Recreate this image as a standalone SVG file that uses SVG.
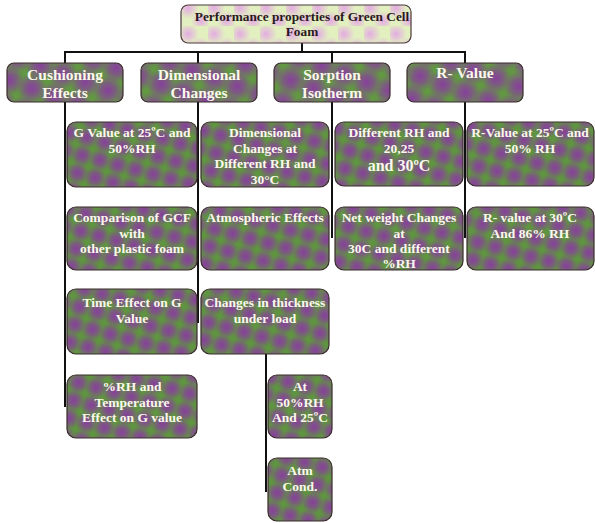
<svg xmlns="http://www.w3.org/2000/svg" width="595" height="523" viewBox="0 0 595 523">
<defs>
<radialGradient id="pb"><stop offset="0" stop-color="#8a3aa2" stop-opacity="0.95"/><stop offset="0.5" stop-color="#8a3aa2" stop-opacity="0.6"/><stop offset="1" stop-color="#8a3aa2" stop-opacity="0"/></radialGradient>
<radialGradient id="lb"><stop offset="0" stop-color="#e4a4e6" stop-opacity="0.9"/><stop offset="1" stop-color="#e4a4e6" stop-opacity="0"/></radialGradient>
<pattern id="tex" width="26" height="26" patternUnits="userSpaceOnUse" patternTransform="rotate(-30)">
<rect width="26" height="26" fill="#5f9440"/>
<circle cx="6.5" cy="6.5" r="11" fill="url(#pb)"/>
<circle cx="19.5" cy="19.5" r="11" fill="url(#pb)"/>
<circle cx="32.5" cy="6.5" r="11" fill="url(#pb)"/>
<circle cx="-6.5" cy="19.5" r="11" fill="url(#pb)"/>
<circle cx="6.5" cy="32.5" r="11" fill="url(#pb)"/>
<circle cx="19.5" cy="-6.5" r="11" fill="url(#pb)"/>
</pattern>
<pattern id="texL" width="34" height="34" patternUnits="userSpaceOnUse" patternTransform="rotate(-25)">
<rect width="34" height="34" fill="#629842"/>
<circle cx="8.5" cy="8.5" r="15" fill="url(#pb)"/>
<circle cx="25.5" cy="25.5" r="15" fill="url(#pb)"/>
<circle cx="42.5" cy="8.5" r="15" fill="url(#pb)"/>
<circle cx="-8.5" cy="25.5" r="15" fill="url(#pb)"/>
<circle cx="8.5" cy="42.5" r="15" fill="url(#pb)"/>
<circle cx="25.5" cy="-8.5" r="15" fill="url(#pb)"/>
</pattern>
<pattern id="texT" width="26" height="26" patternUnits="userSpaceOnUse">
<rect width="26" height="26" fill="#e2f0c0"/>
<circle cx="6" cy="8" r="11" fill="url(#lb)"/>
<circle cx="19" cy="21" r="10" fill="url(#lb)"/>
</pattern>
<style>
.box{fill:url(#tex);stroke:#3a2c2c;stroke-width:1.2}
.l1{fill:url(#texL);stroke:#3a2c2c;stroke-width:1.2}
.top{fill:url(#texT);stroke:#4a3a3a;stroke-width:1.2}
text{font-family:"Liberation Serif","Times New Roman",serif;font-weight:bold;text-anchor:middle}
.w{fill:#fbf8ec;font-size:13.5px}
.w1{fill:#fbf8ec;font-size:15.5px}
.tt{fill:#2a1822;font-size:13.3px}
.con line{stroke:#111;stroke-width:2}
</style>
</defs>

<g id="connectors" class="con">
<line x1="302" y1="43" x2="302" y2="52"/>
<line x1="64" y1="52" x2="466" y2="52"/>
<line x1="65" y1="52" x2="65" y2="63"/>
<line x1="198" y1="52" x2="198" y2="63"/>
<line x1="332" y1="52" x2="332" y2="63"/>
<line x1="465" y1="52" x2="465" y2="63"/>
<line x1="65" y1="102" x2="65" y2="407"/>
<line x1="198" y1="102" x2="198" y2="323"/>
<line x1="332" y1="102" x2="332" y2="238"/>
<line x1="465" y1="102" x2="465" y2="238"/>
<line x1="266" y1="354" x2="266" y2="492"/>
</g>

<g id="root">
<rect class="top" x="181" y="5" width="230" height="38" rx="7"/>
<text class="tt" x="302" y="21">Performance properties of Green Cell</text>
<text class="tt" x="302" y="36">Foam</text>
</g>

<g id="cushioning">
<rect class="l1" x="7" y="63" width="116" height="39" rx="7"/>
<text class="w1" x="65" y="80">Cushioning</text>
<text class="w1" x="65" y="98">Effects</text>
</g>
<g id="dimensional">
<rect class="l1" x="141" y="63" width="116" height="39" rx="7"/>
<text class="w1" x="199" y="80">Dimensional</text>
<text class="w1" x="199" y="98">Changes</text>
</g>
<g id="sorption">
<rect class="l1" x="274" y="63" width="116" height="39" rx="7"/>
<text class="w1" x="332" y="80">Sorption</text>
<text class="w1" x="332" y="98">Isotherm</text>
</g>
<g id="rvalue">
<rect class="l1" x="407" y="63" width="116" height="39" rx="7"/>
<text class="w1" x="465" y="78">R- Value</text>
</g>

<g id="gvalue">
<rect class="box" x="67" y="122" width="130" height="65" rx="9"/>
<text class="w" x="132" y="137">G Value at 25ºC and</text>
<text class="w" x="132" y="153">50%RH</text>
</g>
<g id="comparison">
<rect class="box" x="67" y="207" width="130" height="63" rx="9"/>
<text class="w" x="132" y="222">Comparison of GCF</text>
<text class="w" x="132" y="238">with</text>
<text class="w" x="132" y="253">other plastic foam</text>
</g>
<g id="timeeffect">
<rect class="box" x="67" y="289" width="130" height="65" rx="9"/>
<text class="w" x="132" y="307">Time Effect on G</text>
<text class="w" x="132" y="323">Value</text>
</g>
<g id="rhtemp">
<rect class="box" x="67" y="375" width="130" height="63" rx="9"/>
<text class="w" x="132" y="391">%RH  and</text>
<text class="w" x="132" y="407">Temperature</text>
<text class="w" x="132" y="422">Effect on G value</text>
</g>

<g id="dimchanges">
<rect class="box" x="201" y="122" width="128" height="65" rx="9"/>
<text class="w" x="265" y="137">Dimensional</text>
<text class="w" x="265" y="153">Changes at</text>
<text class="w" x="265" y="168">Different RH and</text>
<text class="w" x="265" y="184">30°C</text>
</g>
<g id="atmospheric">
<rect class="box" x="201" y="207" width="128" height="63" rx="9"/>
<text class="w" x="265" y="222">Atmospheric Effects</text>
</g>
<g id="thickness">
<rect class="box" x="201" y="289" width="128" height="65" rx="9"/>
<text class="w" x="265" y="307">Changes in thickness</text>
<text class="w" x="265" y="323">under load</text>
</g>
<g id="at50">
<rect class="box" x="268" y="375" width="64" height="63" rx="9"/>
<text class="w" x="300" y="391">At</text>
<text class="w" x="300" y="407">50%RH</text>
<text class="w" x="300" y="422">And 25ºC</text>
</g>
<g id="atm">
<rect class="box" x="268" y="458" width="64" height="63" rx="9"/>
<text class="w" x="300" y="475">Atm</text>
<text class="w" x="300" y="491">Cond.</text>
</g>

<g id="differentrh">
<rect class="box" x="335" y="122" width="128" height="64" rx="9"/>
<text class="w" x="399" y="137">Different RH and</text>
<text class="w" x="399" y="153">20,25</text>
<text class="w" x="399" y="171" style="font-size:16px">and 30ºC</text>
</g>
<g id="netweight">
<rect class="box" x="335" y="207" width="128" height="63" rx="9"/>
<text class="w" x="399" y="222">Net weight Changes</text>
<text class="w" x="399" y="238">at</text>
<text class="w" x="399" y="253">30C and different</text>
<text class="w" x="399" y="268">%RH</text>
</g>

<g id="r25">
<rect class="box" x="467" y="122" width="127" height="64" rx="9"/>
<text class="w" x="530" y="137">R-Value at 25ºC and</text>
<text class="w" x="530" y="153">50% RH</text>
</g>
<g id="r30">
<rect class="box" x="467" y="207" width="127" height="63" rx="9"/>
<text class="w" x="530" y="222">R- value at 30ºC</text>
<text class="w" x="530" y="238">And 86% RH</text>
</g>
</svg>
